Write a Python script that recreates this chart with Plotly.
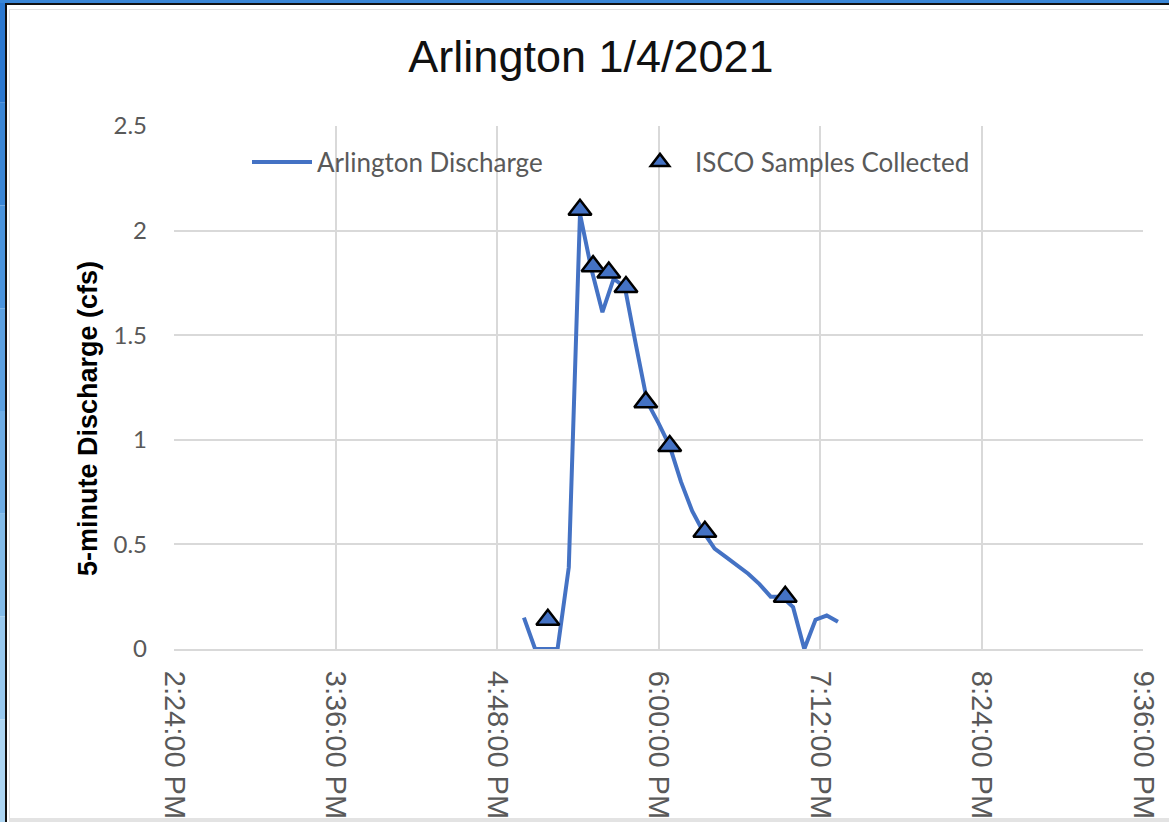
import plotly.graph_objects as go

# ---------------- data ----------------
discharge_times = [
    "2021-01-04 17:00", "2021-01-04 17:05", "2021-01-04 17:10", "2021-01-04 17:15",
    "2021-01-04 17:20", "2021-01-04 17:25", "2021-01-04 17:30", "2021-01-04 17:35",
    "2021-01-04 17:40", "2021-01-04 17:45", "2021-01-04 17:50", "2021-01-04 17:55",
    "2021-01-04 18:00", "2021-01-04 18:05", "2021-01-04 18:10", "2021-01-04 18:15",
    "2021-01-04 18:20", "2021-01-04 18:25", "2021-01-04 18:30", "2021-01-04 18:35",
    "2021-01-04 18:40", "2021-01-04 18:45", "2021-01-04 18:50", "2021-01-04 18:55",
    "2021-01-04 19:00", "2021-01-04 19:05", "2021-01-04 19:10", "2021-01-04 19:15",
    "2021-01-04 19:20",
]
discharge_cfs = [
    0.15, 0.0, 0.0, 0.0,
    0.39, 2.08, 1.82, 1.61,
    1.77, 1.73, 1.45, 1.18,
    1.08, 0.97, 0.80, 0.66,
    0.56, 0.48, 0.44, 0.40,
    0.36, 0.31, 0.25, 0.25,
    0.20, 0.0, 0.14, 0.16,
    0.13,
]

sample_times = [
    "2021-01-04 17:10:40", "2021-01-04 17:25:00", "2021-01-04 17:30:50",
    "2021-01-04 17:37:50", "2021-01-04 17:45:30", "2021-01-04 17:54:20",
    "2021-01-04 18:05:00", "2021-01-04 18:20:40", "2021-01-04 18:56:30",
]
sample_cfs = [0.14, 2.10, 1.83, 1.80, 1.73, 1.18, 0.97, 0.56, 0.25]

x_range = ["2021-01-04 14:24", "2021-01-04 21:36"]
y_range = [0, 2.5]

title_text = "Arlington 1/4/2021"
y_title = "5-minute Discharge (cfs)"
line_name = "Arlington Discharge"
sample_name = "ISCO Samples Collected"

# ---------------- layout geometry ----------------
W, H = 1169, 822
L, R, T, B = 174, 1143, 126, 649
PW, PH = R - L, B - T


def px(xp):
    return (xp - L) / PW


def py(yp):
    return (B - yp) / PH


BLUE = "#4472C4"
GREY_TXT = "#595959"
GRID = "#d9d9d9"

fig = go.Figure()
fig.add_trace(go.Scatter(
    x=discharge_times, y=discharge_cfs, mode="lines", name=line_name,
    line=dict(color=BLUE, width=4),
))
fig.add_trace(go.Scatter(
    x=sample_times, y=sample_cfs, mode="markers", name=sample_name,
    marker=dict(symbol="triangle-up", size=20, color=BLUE,
                line=dict(color="black", width=2.5)),
))

# window frame decoration
shapes = []
blues = ["#2b78d0", "#3a86d6", "#4a93dc", "#5ba0e0", "#6eade5", "#82bbe9", "#97c8ee", "#acd5f2"]
n = len(blues)
for i, c in enumerate(blues):
    y0 = i * H / n
    y1 = (i + 1) * H / n
    shapes.append(dict(type="rect", xref="paper", yref="paper",
                       x0=px(0), x1=px(5), y0=py(y1), y1=py(y0),
                       fillcolor=c, line=dict(width=0), layer="above"))
shapes.append(dict(type="rect", xref="paper", yref="paper",
                   x0=px(0), x1=px(W), y0=py(3), y1=py(0),
                   fillcolor="#3a86d6", line=dict(width=0), layer="above"))
shapes.append(dict(type="rect", xref="paper", yref="paper",
                   x0=px(5), x1=px(7), y0=py(H), y1=py(3),
                   fillcolor="#111111", line=dict(width=0), layer="above"))
shapes.append(dict(type="rect", xref="paper", yref="paper",
                   x0=px(5), x1=px(W), y0=py(5), y1=py(3),
                   fillcolor="#111111", line=dict(width=0), layer="above"))
shapes.append(dict(type="rect", xref="paper", yref="paper",
                   x0=px(9), x1=px(10), y0=py(819), y1=py(9),
                   fillcolor="#e3e3e3", line=dict(width=0), layer="above"))
shapes.append(dict(type="rect", xref="paper", yref="paper",
                   x0=px(9), x1=px(W), y0=py(10), y1=py(9),
                   fillcolor="#e3e3e3", line=dict(width=0), layer="above"))
shapes.append(dict(type="rect", xref="paper", yref="paper",
                   x0=px(9), x1=px(W), y0=py(H), y1=py(818),
                   fillcolor="#e3e3e3", line=dict(width=0), layer="above"))

fig.update_layout(
    width=W, height=H,
    margin=dict(l=L, r=W - R, t=T, b=H - B, pad=0, autoexpand=False),
    paper_bgcolor="white", plot_bgcolor="white",
    title=dict(text=title_text, x=591 / W, xref="container", xanchor="center",
               y=1 - 56 / H, yref="container", yanchor="middle",
               font=dict(family="Liberation Sans, Arial", size=45, color="#111111")),
    showlegend=True,
    legend=dict(orientation="h", x=px(247), y=py(162), xanchor="left", yanchor="middle",
                bgcolor="rgba(0,0,0,0)",
                font=dict(family="Lato, Calibri", size=26, color=GREY_TXT),
                entrywidth=303, entrywidthmode="pixels", itemwidth=60),
    xaxis=dict(type="date", range=x_range, tick0="2021-01-04 14:24", dtick=72 * 60 * 1000,
               tickformat="%-I:%M:%S %p", tickangle=90, automargin=False,
               showgrid=True, gridcolor=GRID, gridwidth=2,
               showline=True, linecolor=GRID, linewidth=2,
               zeroline=False, ticks="", ticklabelstandoff=14,
               tickfont=dict(family="Liberation Sans, Arial", size=29, color=GREY_TXT)),
    yaxis=dict(range=y_range, dtick=0.5, showgrid=True, gridcolor=GRID, gridwidth=2,
               zeroline=False, showline=False, ticks="", ticklabelstandoff=26,
               automargin=False,
               tickfont=dict(family="Lato, Calibri", size=24, color=GREY_TXT)),
    annotations=[dict(text="<b>" + y_title + "</b>", xref="paper", yref="paper",
                      x=px(88), y=py(419), xanchor="center", yanchor="middle",
                      textangle=-90, showarrow=False,
                      font=dict(family="Liberation Sans, Arial", size=27, color="black"))],
    shapes=shapes,
)

fig.write_html("out.html", config={"displayModeBar": False},
               post_script="document.body.style.margin='0';document.body.style.overflow='hidden';")
